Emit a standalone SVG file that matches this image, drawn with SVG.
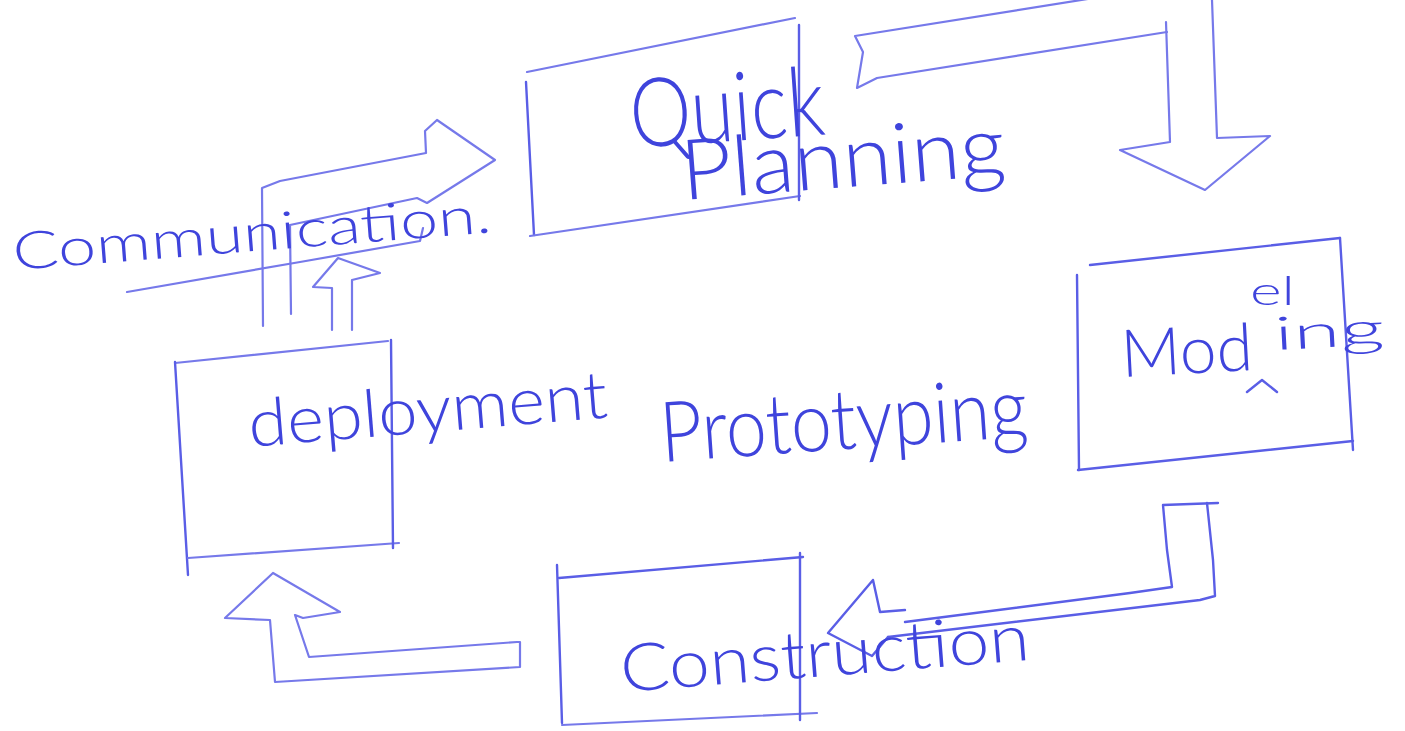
<svg xmlns="http://www.w3.org/2000/svg" width="1405" height="731" viewBox="0 0 1405 731">
  <style>
    .ink { fill: none; stroke: #5a5ee6; stroke-width: 2.4; stroke-linecap: round; stroke-linejoin: round; }
    .ink-soft { fill: none; stroke: #7679ea; stroke-width: 2.2; stroke-linecap: round; stroke-linejoin: round; }
    .hand { fill: #3f44dc; font-family: Lato, "Open Sans", "Liberation Sans", sans-serif; font-weight: 300; }
  </style>
  <rect width="1405" height="731" fill="#ffffff"/>

  <!-- Connectors: hollow block arrows between the phases -->
  <g id="connectors">
    <!-- deployment -> quick planning (L-shaped arrow under "Communication") -->
    <polyline class="ink-soft" points="263,326 262,188 280,181 426,153 425,131 437,120 495,160 427,203 417,198 290,225 291,314"/>
    <polyline class="ink-soft" points="127,292 300,262 420,241 423,228"/>
    <!-- small upward arrow -->
    <polyline class="ink-soft" points="332,330 332,288 313,287 338,258 380,273 352,280 352,330"/>

    <!-- quick planning -> modeling (bent arrow at top right) -->
    <polyline class="ink-soft" points="1100,-3 855,36 863,52 857,88 877,78 1167,32"/>
    <polyline class="ink-soft" points="1166,22 1170,142 1120,150 1205,190 1270,136 1217,138 1212,0"/>

    <!-- modeling -> construction -->
    <polyline class="ink" points="1218,503 1163,505 1167,550 1172,587 1130,593 905,622"/>
    <polyline class="ink" points="1207,503 1213,560 1215,596 1200,600 888,637"/>
    <polyline class="ink" points="905,610 880,612 873,580 828,633 872,656 888,637"/>

    <!-- construction -> deployment -->
    <polyline class="ink-soft" points="520,642 517,642 309,657 295,615 303,618 340,612 273,573 225,618 270,620 275,682 520,667 520,642"/>
  </g>

  <!-- Quick planning -->
  <g id="node-quick-planning">
    <polyline class="ink-soft" points="527,72 795,18"/>
    <polyline class="ink" points="526,82 534,235"/>
    <polyline class="ink-soft" points="530,236 800,196"/>
    <polyline class="ink" points="799,25 799,200"/>
    <text class="hand" x="632" y="148" font-size="96" textLength="195" lengthAdjust="spacingAndGlyphs" transform="rotate(-4 632 148)">Quick</text>
    <text class="hand" x="683" y="200" font-size="84" textLength="325" lengthAdjust="spacingAndGlyphs" transform="rotate(-4.5 683 200)">Planning</text>
  </g>

  <!-- Modeling -->
  <g id="node-modeling">
    <polyline class="ink" points="1090,265 1340,238"/>
    <polyline class="ink" points="1077,275 1079,470"/>
    <polyline class="ink" points="1078,470 1353,441"/>
    <polyline class="ink" points="1340,238 1353,450"/>
    <text class="hand" x="1122" y="377" font-size="66" textLength="132" lengthAdjust="spacingAndGlyphs" transform="rotate(-3 1122 377)">Mod</text>
    <text class="hand" x="1250" y="305" font-size="40" textLength="45" lengthAdjust="spacingAndGlyphs">el</text>
    <text class="hand" x="1275" y="350" font-size="46" textLength="110" lengthAdjust="spacingAndGlyphs" transform="rotate(-3 1275 350)">ing</text>
    <polyline class="ink" points="1247,392 1262,380 1277,392"/>
  </g>

  <!-- Construction -->
  <g id="node-construction">
    <polyline class="ink" points="559,578 803,557"/>
    <polyline class="ink" points="557,565 562,723"/>
    <polyline class="ink-soft" points="562,725 817,713"/>
    <polyline class="ink" points="800,553 800,720"/>
    <text class="hand" x="622" y="692" font-size="66" textLength="410" lengthAdjust="spacingAndGlyphs" transform="rotate(-4.5 622 692)">Construction</text>
  </g>

  <!-- Deployment -->
  <g id="node-deployment">
    <polyline class="ink-soft" points="175,363 388,341"/>
    <polyline class="ink" points="175,362 188,575"/>
    <polyline class="ink-soft" points="188,558 399,543"/>
    <polyline class="ink" points="391,340 393,548"/>
    <text class="hand" x="250" y="447" font-size="66" textLength="360" lengthAdjust="spacingAndGlyphs" transform="rotate(-4.7 250 447)">deployment</text>
  </g>

  <!-- Communication label -->
  <g id="node-communication">
    <text class="hand" x="14" y="270" font-size="52" textLength="480" lengthAdjust="spacingAndGlyphs" transform="rotate(-4.5 14 270)">Communication.</text>
  </g>

  <!-- Centre title -->
  <g id="node-prototyping">
    <text class="hand" x="662" y="462" font-size="84" textLength="368" lengthAdjust="spacingAndGlyphs" transform="rotate(-4 662 462)">Prototyping</text>
  </g>
</svg>
